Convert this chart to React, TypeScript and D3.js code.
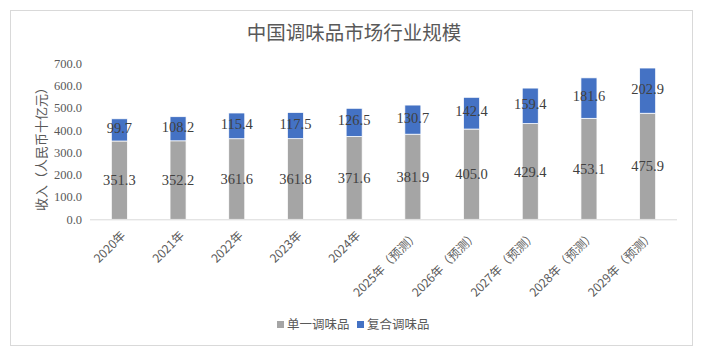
import React from "react";
import * as d3 from "d3";

const categories = ["2020年", "2021年", "2022年", "2023年", "2024年", "2025年（预测）", "2026年（预测）", "2027年（预测）", "2028年（预测）", "2029年（预测）"];
const singleValues = [351.3, 352.2, 361.6, 361.8, 371.6, 381.9, 405.0, 429.4, 453.1, 475.9];
const compoundValues = [99.7, 108.2, 115.4, 117.5, 126.5, 130.7, 142.4, 159.4, 181.6, 202.9];
const yTicks = [0, 100, 200, 300, 400, 500, 600, 700];
const seriesNames = ["单一调味品", "复合调味品"];
const colors = ["#A5A5A5", "#4472C4"];

const W = 705, H = 355;
const left = 90, right = 677, top = 63.3, bottom = 219.3;
const numFont = "'Liberation Serif', 'Noto Sans CJK SC', serif";
const cjkFont = "'Noto Sans CJK SC', sans-serif";

export default function App() {
  const x = d3.scaleBand<string>().domain(categories).range([left, right]).paddingInner(0.727).paddingOuter(0.3635);
  const y = d3.scaleLinear().domain([0, 700]).range([bottom, top]);
  const stackData = categories.map((c, i) => ({ cat: c, s: singleValues[i], c2: compoundValues[i] }));
  const stack = d3.stack<any>().keys(["s", "c2"])(stackData);
  const bw = x.bandwidth();

  return (
    <svg width={W} height={H} style={{ position: "absolute", left: 0, top: 0, background: "#fff" }}>
      <rect x={10.5} y={10.5} width={682} height={335} fill="#fff" stroke="#D9D9D9" />
      <text x={354} y={40} textAnchor="middle" fontFamily={cjkFont} fontSize={19.5} fill="#595959">中国调味品市场行业规模</text>
      {yTicks.map((t) => (
        <text key={t} x={82} y={y(t)} dy="0.35em" textAnchor="end" fontFamily={numFont} fontSize={12.5} fill="#595959">{t.toFixed(1)}</text>
      ))}
      <text transform={`translate(41,146) rotate(-90)`} textAnchor="middle" dy="0.35em" fontFamily={cjkFont} fontSize={13} fill="#595959">收入（人民币十亿元）</text>
      {stack.map((layer, li) =>
        layer.map((d, i) => (
          <rect key={`${li}-${i}`} x={x(categories[i])!} y={y(d[1])} width={bw} height={y(d[0]) - y(d[1])} fill={colors[li]} stroke="#fff" strokeWidth={0.75} />
        ))
      )}
      <line x1={left} x2={right} y1={bottom + 0.5} y2={bottom + 0.5} stroke="#D9D9D9" strokeWidth={1} />
      {stack.map((layer, li) =>
        layer.map((d, i) => (
          <text key={`l${li}-${i}`} x={x(categories[i])! + bw / 2} y={(y(d[0]) + y(d[1])) / 2 - (li === 1 ? 2 : 0)} dy="0.35em" textAnchor="middle" fontFamily={numFont} fontSize={14.5} fill="#404040">
            {(li === 0 ? singleValues[i] : compoundValues[i]).toFixed(1)}
          </text>
        ))
      )}
      {categories.map((c) => (
        <text key={c} transform={`translate(${x(c)! + bw / 2 + 4},${bottom + 14}) rotate(-45)`} textAnchor="end" dy="0.35em" fontFamily={cjkFont} fontSize={12} fill="#595959">{c}</text>
      ))}
      {seriesNames.map((n, i) => (
        <g key={n} transform={`translate(${277 + i * 80},325)`}>
          <rect x={0} y={-4} width={7} height={7} fill={colors[i]} />
          <text x={10} y={0} dy="0.35em" fontFamily={cjkFont} fontSize={12.5} fill="#595959">{n}</text>
        </g>
      ))}
    </svg>
  );
}
